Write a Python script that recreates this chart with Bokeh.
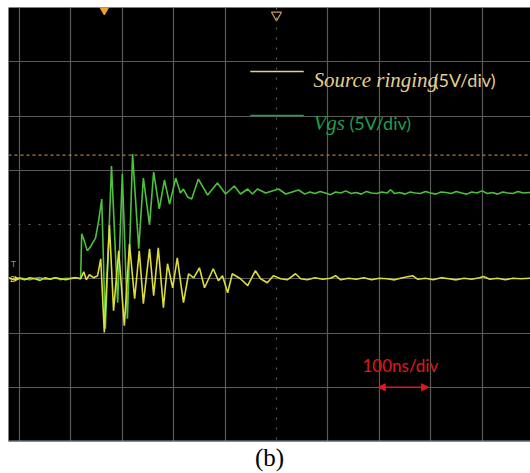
from bokeh.plotting import figure
from bokeh.models import FixedTicker, Span, Label, Arrow, NormalHead, Range1d, Grid, Title
from bokeh.embed import file_html
from bokeh.resources import INLINE

# ---------------- data (time in ns, voltage in V) ----------------
NS_PER_DIV = 100
V_PER_DIV = 5
x_ticks = [0, 100, 200, 300, 400, 600, 700, 800, 900, 1000]
y_ticks = [-20, -15, -10, -5, 5, 10, 15, 20]
center_t = 500
center_v = 0
ch_offset = -5          # both channels shown one division below centre
trigger_level = 11.4    # on Vgs channel (V)
trigger_time = 165

src_t = [-21, -10, 0, 10, 20, 30, 40, 50, 60, 70, 80, 90, 100, 110,
         119, 125, 130, 136, 144, 152, 158, 165, 175, 183, 193, 204, 214, 224,
         233, 241, 253, 261, 270, 280, 288, 298, 307, 319, 329, 339, 350, 360,
         377, 387, 395, 405, 414, 430, 444, 459, 469, 482, 494, 508, 521, 537,
         547, 560, 575, 590, 605, 615, 625, 640, 655, 670, 685, 700, 715, 730,
         745, 765, 775, 790, 805, 820, 835, 850, 865, 880, 895, 903, 915, 930,
         945, 960, 975, 995]
src_v = [0.1, -0.1, 0.05, -0.1, 0.1, 0.0, -0.15, 0.1, -0.05, 0.1, 0.0, -0.1, 0.05, 0.1,
         0.0, 0.64, -0.1, 0.37, 0.1, 0.28, 1.84, -4.96, 4.96, -2.94, 2.57, -4.32, 3.22, -1.84,
         2.57, -2.3, 2.76, -1.56, 2.85, -2.67, 1.38, -0.83, 1.93, -2.2, 0.46, 0.09, 1.01, -0.83,
         0.92, -0.18, 0.28, -1.29, 0.46, 0.0, -0.64, 0.74, 0.0, -0.37, 0.28, 0.0, -0.1, 0.46,
         0.0, -0.1, 0.1, -0.05, 0.05, 0.28, -0.1, 0.05, -0.05, 0.1, -0.1, 0.05, 0.0, -0.1,
         0.1, 0.28, -0.05, 0.05, -0.1, 0.1, 0.0, -0.1, 0.05, -0.05, 0.1, 0.2, -0.05, 0.05,
         -0.1, 0.05, 0.0, 0.05]

vgs_t = [-21, -10, 0, 10, 20, 30, 40, 50, 60, 70, 80, 90, 100, 110,
         119, 121, 126, 132, 138, 148, 154, 160, 167, 179, 191, 200, 210, 220,
         232, 241, 253, 261, 272, 282, 292, 304, 313, 319, 327, 335, 348, 366,
         385, 401, 418, 430, 444, 453, 463, 479, 504, 518, 543,
         555, 565, 575, 585, 595, 605, 615, 625, 635, 645, 655, 665, 675, 685,
         695, 705, 715, 722, 730, 740, 750, 760, 770, 780, 790, 800, 810, 820,
         830, 840, 850, 860, 870, 880, 890, 900, 910, 920, 930, 940, 950, 960,
         970, 980, 995]
vgs_v = [0.05, -0.1, 0.1, 0.0, -0.1, 0.05, 0.1, -0.05, 0.0, 0.1, -0.1, 0.05, 0.0, 0.1,
         0.0, 4.14, 3.49, 2.57, 2.94, 3.77, 5.33, 7.35, -4.6, 10.39, -2.2, 9.65, -3.68, 11.49,
         2.76, 9.28, 4.96, 9.83, 6.43, 9.1, 6.89, 9.28, 7.9, 8.27, 7.54, 7.35, 9.19, 7.72,
         8.82, 7.81, 8.55, 7.81, 8.27, 7.81, 8.27, 7.9, 8.27, 7.81, 8.18,
         7.8, 8.0, 7.85, 8.05, 7.9, 7.75, 8.0, 7.9, 8.1, 7.85, 7.95, 7.8, 8.05, 7.9,
         7.85, 8.0, 7.9, 8.2, 7.85, 7.95, 7.8, 8.0, 7.9, 7.85, 8.05, 7.9, 7.8, 8.0,
         7.95, 7.85, 8.05, 7.9, 7.8, 8.0, 7.9, 8.1, 7.85, 7.95, 7.8, 8.0, 7.9, 7.85,
         8.05, 7.9, 7.95]

legend_labels = ["Source ringing", "Vgs"]
legend_units = "(5V/div)"
time_scale_label = "100ns/div"
caption = "(b)"

YELLOW = "#dcdc3c"
GREEN = "#4cc23a"
TAN = "#e3cf8f"
LGREEN = "#1f9e4c"
RED = "#e0181b"
GRID = "#5a5a5a"

p = figure(width=530, height=473, x_range=Range1d(-21.4, 994.2), y_range=Range1d(-20, 20),
           x_axis_type=None, y_axis_type=None,
           output_backend="svg", toolbar_location=None,
           min_border_left=8, min_border_right=0, min_border_top=7, min_border_bottom=32,
           background_fill_color="black", border_fill_color="white", outline_line_color=None)

p.add_layout(Title(text=caption, align="center", text_font_size="25px", text_font="Liberation Serif",
                   text_font_style="normal", text_color="black", standoff=0), "below")

p.add_layout(Grid(dimension=0, ticker=FixedTicker(ticks=x_ticks), grid_line_color=GRID, grid_line_width=1.2))
p.add_layout(Grid(dimension=1, ticker=FixedTicker(ticks=y_ticks), grid_line_color=GRID, grid_line_width=1.2))
p.add_layout(Span(location=center_t, dimension="height", line_color="#6a6a6a", line_width=1, line_dash="2 8"))
p.add_layout(Span(location=center_v, dimension="width", line_color="#6a6a6a", line_width=1, line_dash="2 8"))
p.add_layout(Span(location=-20, dimension="width", line_color="#8a9aaa", line_width=2))

# trigger level (dashed orange)
p.add_layout(Span(location=trigger_level + ch_offset, dimension="width", line_color="#b8783c",
                  line_width=1.2, line_dash="3 3"))

# traces
p.line(vgs_t, [v + ch_offset for v in vgs_v], line_color=GREEN, line_width=1.6)
p.line(src_t, [v + ch_offset for v in src_v], line_color=YELLOW, line_width=1.6)

# top markers
p.scatter([trigger_time], [20], marker="inverted_triangle", size=13, fill_color="#f0a030", line_color="#f0a030")
p.scatter([center_t], [19.3], marker="inverted_triangle", size=10, fill_color=None, line_color="#c89a5a", line_width=1.2)

# channel markers at left
p.add_layout(Label(x=-11.7, y=-3.6, text="T", text_color=GREEN, text_font_size="9px",
                   text_align="center", text_baseline="middle", text_font="Liberation Sans"))
p.add_layout(Label(x=-13.5, y=-5.0, text="2", text_color=YELLOW, text_font_size="9px",
                   text_align="center", text_baseline="middle", text_font="Liberation Sans"))
p.scatter([-6], [-5.0], marker="triangle", angle=-1.5708, size=6, fill_color=YELLOW, line_color=None)

# legend
p.segment(x0=[449, 449], y0=[14.1, 10.05], x1=[553, 553], y1=[14.1, 10.05],
          line_color=[TAN, LGREEN], line_width=1.5)
p.add_layout(Label(x=572, y=13.3, text=legend_labels[0], text_color=TAN, text_font_size="21px",
                   text_font="Liberation Serif", text_font_style="italic", text_baseline="alphabetic"))
p.add_layout(Label(x=806, y=13.3, text=legend_units, text_color=TAN, text_font_size="18px",
                   text_font="Lato", text_baseline="alphabetic"))
p.add_layout(Label(x=572, y=9.4, text=legend_labels[1], text_color=LGREEN, text_font_size="21px",
                   text_font="Liberation Serif", text_font_style="italic", text_baseline="alphabetic"))
p.add_layout(Label(x=642, y=9.4, text=legend_units, text_color=LGREEN, text_font_size="18px",
                   text_font="Lato", text_baseline="alphabetic"))

# time scale annotation
p.add_layout(Label(x=741, y=-13.0, text=time_scale_label, text_color=RED, text_font_size="17px",
                   text_font="Lato", text_align="center", text_baseline="middle"))
p.add_layout(Arrow(x_start=698, y_start=-15.0, x_end=796, y_end=-15.0, line_color=RED, line_width=1.5,
                   start=NormalHead(size=7, fill_color=RED, line_color=RED),
                   end=NormalHead(size=7, fill_color=RED, line_color=RED)))

open("out.html", "w").write(file_html(p, INLINE))
